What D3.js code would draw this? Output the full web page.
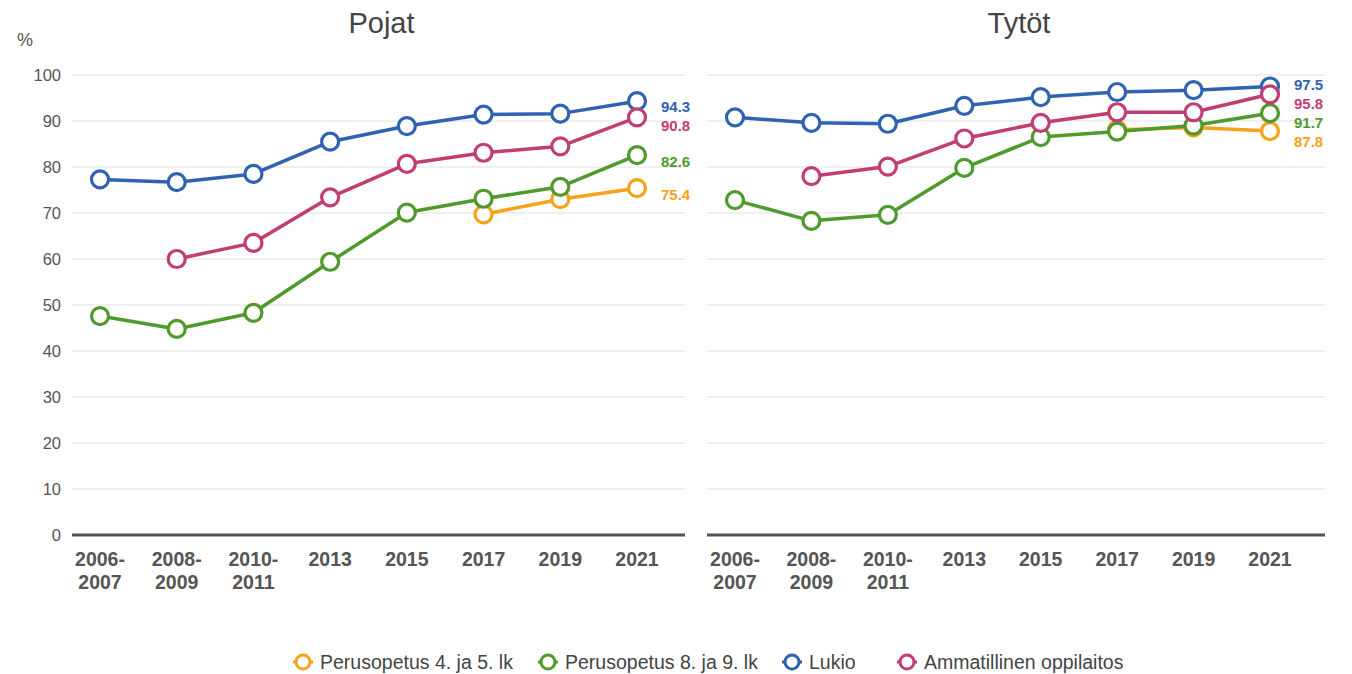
<!DOCTYPE html>
<html>
<head>
<meta charset="utf-8">
<script src="https://cdn.jsdelivr.net/npm/d3@7"></script>
<style>
  body { margin: 0; background: #fff; font-family: "Liberation Sans", Arial, sans-serif; }
</style>
</head>
<body>
<script>
const categories = ['2006-2007', '2008-2009', '2010-2011', '2013', '2015', '2017', '2019', '2021']
const seriesNames = ['Perusopetus 4. ja 5. lk', 'Perusopetus 8. ja 9. lk', 'Lukio', 'Ammatillinen oppilaitos']
const colors = ['#f7a21b', '#4f9a2c', '#2f62b0', '#c23d72']
const yTicks = [0, 10, 20, 30, 40, 50, 60, 70, 80, 90, 100]

// Pojat
const boysPerus45 = [null, null, null, null, null, 69.7, 73.0, 75.4]
const boysPerus89 = [47.6, 44.8, 48.3, 59.4, 70.1, 73.1, 75.7, 82.6]
const boysLukio = [77.3, 76.7, 78.5, 85.5, 88.9, 91.4, 91.6, 94.3]
const boysAmm = [null, 60.0, 63.5, 73.4, 80.7, 83.1, 84.5, 90.8]

// Tytöt
const girlsPerus45 = [null, null, null, null, null, 88.1, 88.6, 87.8]
const girlsPerus89 = [72.8, 68.3, 69.6, 79.8, 86.5, 87.7, 89.0, 91.7]
const girlsLukio = [90.8, 89.6, 89.4, 93.3, 95.2, 96.3, 96.7, 97.5]
const girlsAmm = [null, 78.0, 80.1, 86.2, 89.6, 91.9, 91.9, 95.8]

const panels = [
  { title: 'Pojat', series: [boysPerus45, boysPerus89, boysLukio, boysAmm], left: 72, right: 685, first: 100, last: 637, yLabels: true },
  { title: 'Tytöt', series: [girlsPerus45, girlsPerus89, girlsLukio, girlsAmm], left: 707, right: 1325, first: 735, last: 1270, yLabels: false }
]

const w = 1352
const h = 674
const plotTop = 75
const plotBottom = 535

const svg = d3.select('body')
  .append('svg')
  .attr('width', w)
  .attr('height', h)

const yScale = d3.scaleLinear().domain([0, 100]).range([plotBottom, plotTop])

svg.append('text')
  .attr('x', 17)
  .attr('y', 46)
  .attr('fill', '#555')
  .attr('font-size', 18)
  .text('%')

panels.forEach(p => {
  const xScale = d3.scalePoint().domain(categories).range([p.first, p.last])
  const g = svg.append('g')

  // title
  g.append('text')
    .attr('x', (p.left + p.right) / 2 + 3)
    .attr('y', 33)
    .attr('text-anchor', 'middle')
    .attr('fill', '#444')
    .attr('font-size', 29)
    .text(p.title)

  // grid
  g.selectAll('line.grid')
    .data(yTicks.filter(t => t > 0))
    .enter()
    .append('line')
    .attr('class', 'grid')
    .attr('x1', p.left)
    .attr('x2', p.right)
    .attr('y1', d => yScale(d))
    .attr('y2', d => yScale(d))
    .attr('stroke', '#e2e2e2')
    .attr('stroke-width', 1.2)

  if (p.yLabels) {
    const yAxis = d3.axisLeft(yScale).tickValues(yTicks).tickSize(0).tickPadding(0)
    const ya = g.append('g')
      .attr('transform', 'translate(61,0)')
      .call(yAxis)
    ya.select('.domain').remove()
    ya.selectAll('text')
      .attr('fill', '#555')
      .attr('font-size', 16.5)
      .attr('font-family', '"Liberation Sans", Arial, sans-serif')
  }

  // baseline
  g.append('line')
    .attr('x1', p.left)
    .attr('x2', p.right)
    .attr('y1', yScale(0))
    .attr('y2', yScale(0))
    .attr('stroke', '#555')
    .attr('stroke-width', 3)

  // x labels
  const xl = g.selectAll('text.xl')
    .data(categories)
    .enter()
    .append('text')
    .attr('class', 'xl')
    .attr('text-anchor', 'middle')
    .attr('fill', '#555')
    .attr('font-size', 19.5)
    .attr('font-weight', 'bold')
    .attr('transform', d => 'translate(' + xScale(d) + ',566)')
  xl.each(function(d) {
    const parts = d.split('-')
    const t = d3.select(this)
    if (parts.length === 2) {
      t.append('tspan').attr('x', 0).attr('dy', 0).text(parts[0] + '-')
      t.append('tspan').attr('x', 0).attr('dy', 23).text(parts[1])
    } else {
      t.text(d)
    }
  })

  const line = d3.line()
    .defined(d => d != null)
    .x((d, i) => xScale(categories[i]))
    .y(d => yScale(d))

  p.series.forEach((vals, si) => {
    g.append('path')
      .datum(vals)
      .attr('d', line)
      .attr('fill', 'none')
      .attr('stroke', colors[si])
      .attr('stroke-width', 3.5)
      .attr('stroke-linejoin', 'round')

    g.selectAll('circle.s' + si)
      .data(vals.map((v, i) => ({ v: v, c: categories[i] })).filter(d => d.v != null))
      .enter()
      .append('circle')
      .attr('class', 's' + si)
      .attr('cx', d => xScale(d.c))
      .attr('cy', d => yScale(d.v))
      .attr('r', 8.5)
      .attr('fill', '#fff')
      .attr('stroke', colors[si])
      .attr('stroke-width', 3.2)
  })

  // end labels with simple collision avoidance
  const labels = p.series.map((vals, si) => ({
    v: vals[vals.length - 1],
    color: colors[si],
    y: yScale(vals[vals.length - 1]) + 8
  })).sort((a, b) => a.y - b.y)
  const gap = 19
  for (let k = 0; k < 30; k++) {
    for (let i = 1; i < labels.length; i++) {
      const d = labels[i].y - labels[i - 1].y
      if (d < gap) {
        const s = (gap - d) / 2
        labels[i - 1].y -= s
        labels[i].y += s
      }
    }
  }
  g.selectAll('text.end')
    .data(labels)
    .enter()
    .append('text')
    .attr('class', 'end')
    .attr('x', xScale('2021') + 24)
    .attr('y', d => d.y)
    .attr('dominant-baseline', 'middle')
    .attr('fill', d => d.color)
    .attr('font-size', 15)
    .attr('font-weight', 'bold')
    .text(d => d3.format('.1f')(d.v))
})

// legend
const legendX = [303, 548, 792, 907]
const legend = svg.append('g')
seriesNames.forEach((name, i) => {
  const lg = legend.append('g').attr('transform', 'translate(' + legendX[i] + ',662)')
  lg.append('line')
    .attr('x1', -10).attr('x2', 10)
    .attr('stroke', colors[i]).attr('stroke-width', 3)
  lg.append('circle')
    .attr('r', 7)
    .attr('fill', '#fff')
    .attr('stroke', colors[i])
    .attr('stroke-width', 3)
  lg.append('text')
    .attr('x', 17)
    .attr('y', 7)
    .attr('fill', '#444')
    .attr('font-size', 19.5)
    .text(name)
})
</script>
</body>
</html>
